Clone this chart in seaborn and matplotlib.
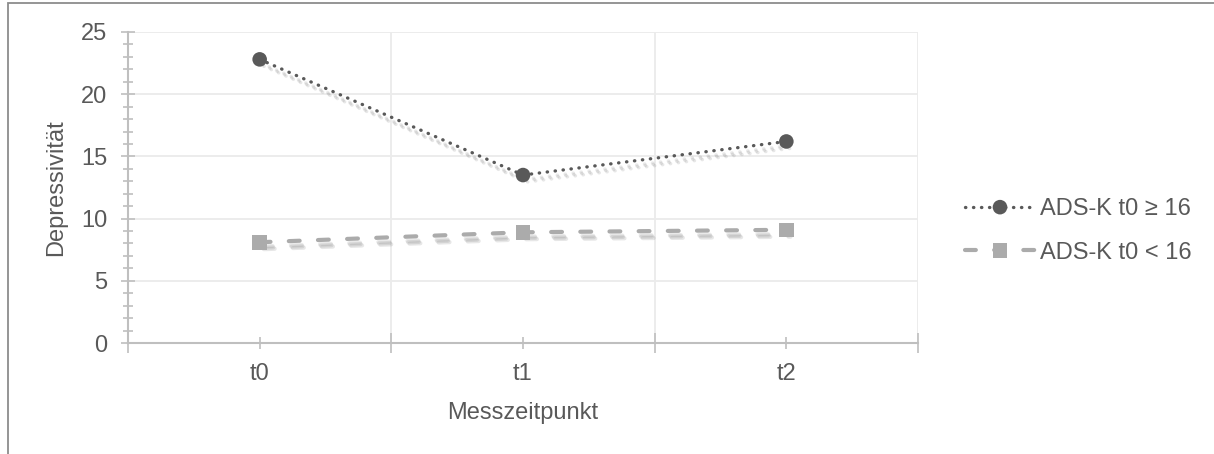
import matplotlib
matplotlib.use("Agg")
import matplotlib.pyplot as plt
import matplotlib.patheffects as pe
from matplotlib.patches import Rectangle
from matplotlib.ticker import FixedLocator, MultipleLocator, NullFormatter
import numpy as np
import pandas as pd
import seaborn as sns

# Measurement points and group means
categories = ["t0", "t1", "t2"]
high_group = [22.8, 13.5, 16.2]   # ADS-K t0 >= 16
low_group = [8.1, 8.9, 9.1]       # ADS-K t0 < 16
label_high = "ADS-K t0 \u2265 16"
label_low = "ADS-K t0 < 16"
x_label = "Messzeitpunkt"
y_label = "Depressivit\u00e4t"
y_ticks = [0, 5, 10, 15, 20, 25]

sns.set_theme(style="white")
plt.rcParams["font.family"] = ["Liberation Sans", "DejaVu Sans"]
text_color = "#595959"
axis_color = "#bfbfbf"
grid_color = "#ebebeb"
fs = 17

pos = np.arange(len(categories))
df = pd.DataFrame({
    "pos": np.concatenate([pos, pos]),
    "value": high_group + low_group,
    "group": [label_high] * 3 + [label_low] * 3,
})

fig = plt.figure(figsize=(12.14, 4.54), dpi=100)
ax = fig.add_axes([128 / 1214, 1 - 343 / 454, 790 / 1214, 311 / 454])

# soft drop shadow built from a few offset, translucent copies
shadow = [pe.SimpleLineShadow(offset=(2, -4), shadow_color="#7a7a7a", alpha=0.18),
          pe.SimpleLineShadow(offset=(3, -5), shadow_color="#7a7a7a", alpha=0.18),
          pe.SimpleLineShadow(offset=(1.5, -3), shadow_color="#7a7a7a", alpha=0.16),
          pe.Normal()]

sns.lineplot(data=df[df.group == label_high], x="pos", y="value", ax=ax,
             color="#595959", linewidth=2.4, linestyle=(0, (0.1, 2.3)),
             marker="o", markersize=10.5, markeredgewidth=0,
             label=label_high, path_effects=shadow, zorder=3)
sns.lineplot(data=df[df.group == label_low], x="pos", y="value", ax=ax,
             color="#ababab", linewidth=3.0, linestyle=(0, (2.6, 4.4)),
             marker="s", markersize=10.5, markeredgewidth=0,
             label=label_low, path_effects=shadow, zorder=3)
for ln in ax.get_lines():
    ln.set_solid_capstyle("round")
    ln.set_dash_capstyle("round")

ax.set_xlim(-0.5, 2.5)
ax.set_ylim(0, 25)

# category boundaries carry gridlines, category centres carry labels
ax.xaxis.set_major_locator(FixedLocator([-0.5, 0.5, 1.5, 2.5]))
ax.xaxis.set_major_formatter(NullFormatter())
ax.xaxis.set_minor_locator(FixedLocator(pos))
ax.set_xticklabels(categories, minor=True)
ax.yaxis.set_major_locator(FixedLocator(y_ticks))
ax.yaxis.set_minor_locator(MultipleLocator(1))

ax.grid(True, which="major", color=grid_color, linewidth=1.3)
ax.set_axisbelow(True)
ax.tick_params(which="both", bottom=True, left=True)
ax.tick_params(axis="x", which="major", direction="inout", length=14, width=1.2,
               color=axis_color)
ax.tick_params(axis="x", which="minor", direction="inout", length=9, width=1.2,
               color=axis_color, labelsize=fs, labelcolor=text_color, pad=10)
ax.tick_params(axis="y", which="major", direction="inout", length=10, width=1.2,
               color=axis_color, labelsize=fs, labelcolor=text_color, pad=10)
ax.tick_params(axis="y", which="minor", direction="inout", length=7, width=1.2,
               color=axis_color)

for side in ("top", "right"):
    ax.spines[side].set_visible(False)
for side in ("left", "bottom"):
    ax.spines[side].set_color(axis_color)
    ax.spines[side].set_linewidth(1.5)

ax.set_xlabel(x_label, fontsize=fs, color=text_color, labelpad=12)
ax.set_ylabel(y_label, fontsize=fs, color=text_color, labelpad=10)

leg = ax.legend(loc="center left", bbox_to_anchor=(1.047, 0.36), frameon=False,
                fontsize=fs, handlelength=3.0, handletextpad=0.2,
                labelspacing=0.9, borderaxespad=0)
for t in leg.get_texts():
    t.set_color(text_color)
for h in leg.legend_handles:
    h.set_path_effects([pe.Normal()])

# outer chart frame
fig.patches.append(Rectangle((8 / 1214, -0.1), 1.2, 1.1 - 3 / 454,
                             transform=fig.transFigure, fill=False,
                             edgecolor="#8c8c8c", linewidth=1.3))

fig.savefig("out.png", dpi=100)
